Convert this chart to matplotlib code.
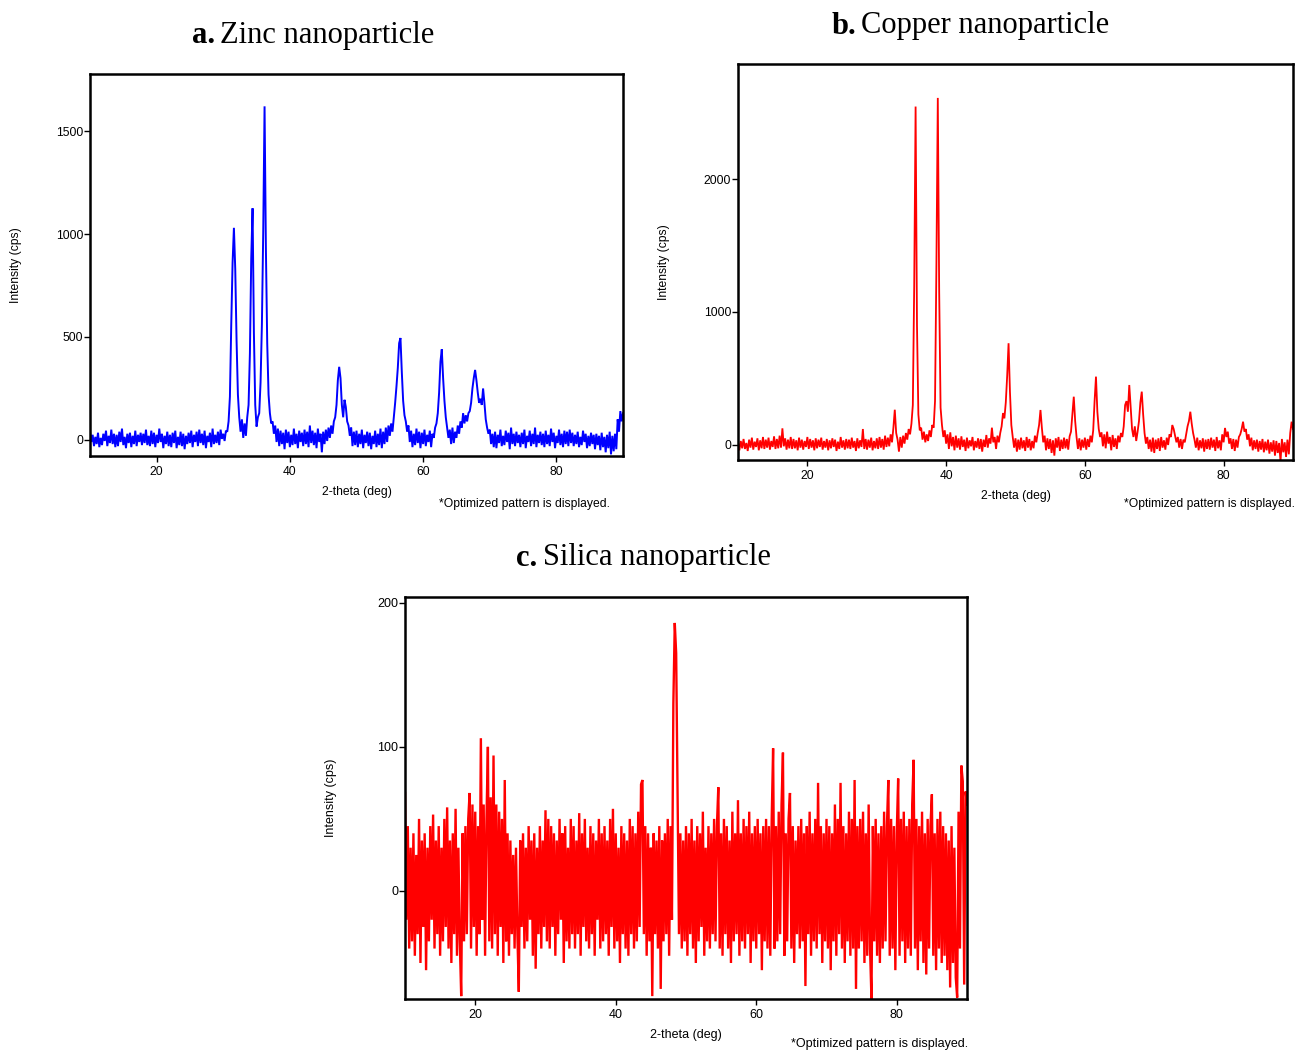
import numpy as np
import matplotlib
matplotlib.use("Agg")
import matplotlib.pyplot as plt

# ---------------- data ----------------
# scan positions: 10.0 .. 90.0 deg, 0.2 deg steps (401 points)
two_theta_start, two_theta_stop, two_theta_step = 10.0, 90.0, 0.2

# each row below covers 4 deg (20 points)
zinc_intensity = [
    40, -10, 25, -30, 15, -20, 35, -35, 10, -25, 30, -5, 45, -30, 20, -15, 50, -20, 30, -35,
    25, -30, 40, -10, 55, -25, 15, -40, 30, -15, 35, -35, 20, -20, 45, -30, 25, -10, 35, -25,
    30, -15, 50, -25, 20, -30, 45, -20, 35, -35, 25, -15, 55, -10, 30, -40, 20, -20, 40, -30,
    25, -35, 35, -15, 45, -40, 15, -25, 40, -30, 30, -45, 20, -20, 35, -15, 45, -35, 25, -10,
    40, -30, 50, -15, 30, -25, 45, -40, 20, -10, 35, -35, 55, -20, 25, -15, 40, -25, 50, 5,
    30, -5, 45, 40, 90, 210, 560, 860, 1030, 830, 480, 220, 110, 40, 100, 10, 80, 20, 110, 170,
    420, 880, 1125, 520, 170, 65, 110, 130, 280, 560, 1010, 1620, 930, 470, 220, 130, 80, 90, 30, 70,
    -10, 55, -30, 45, -20, 35, -45, 50, -15, 40, -35, 25, -25, 55, -20, 30, -40, 45, -10, 35,
    -30, 50, -20, 40, -35, 70, -15, 45, -25, 35, -40, 55, -10, 30, -60, 40, -20, 50, -5, 60,
    10, 70, 30, 90, 110, 170, 290, 355, 300, 170, 110, 195, 160, 90, 70, 20, 60, -30, 40, -25,
    45, -35, 30, -20, 50, -40, 25, -15, 40, -30, 35, -45, 20, -20, 45, -35, 30, -25, 55, -40,
    40, -20, 60, -10, 70, 20, 80, 40, 110, 180, 260, 350, 470, 495, 330, 190, 120, 90, 40, 70,
    -10, 45, -35, 30, -25, 55, -15, 40, -40, 35, -20, 50, -30, 25, -10, 45, -35, 30, 10, 60,
    80, 130, 230, 380, 440, 300, 190, 110, 60, 10, 50, -20, 60, -15, 40, 10, 70, 30, 90, 60,
    130, 80, 120, 90, 130, 140, 180, 250, 300, 340, 290, 230, 180, 200, 170, 250, 180, 100, 60, 30,
    50, -20, 30, -35, 40, -40, 25, -15, 50, -30, 20, -25, 45, -10, 35, -45, 60, -20, 30, -30,
    40, -15, 25, -35, 35, -20, 50, -40, 20, -10, 45, -30, 30, -20, 60, -35, 25, -15, 40, -25,
    30, -35, 45, -20, 25, -30, 55, -10, 35, -40, 20, -15, 50, -25, 30, -35, 45, -20, 40, -30,
    50, -15, 35, -30, 25, -20, 40, -35, 15, -25, 45, -10, 30, -40, 20, -30, 35, -20, 25, -45,
    30, -25, 20, -50, 35, -35, 15, -60, 25, -40, 40, -70, 20, -55, 30, -45, 100, 40, 140, 90,
    130,
]

copper_intensity = [
    20, -40, 30, -25, 45, -30, 15, -45, 40, -20, 55, -35, 25, -15, 50, -40, 35, -25, 60, -30,
    40, -20, 55, -35, 30, -15, 65, -30, 45, -25, 70, -20, 125, -10, 50, -35, 40, -25, 60, -30,
    45, -25, 35, -40, 55, -20, 40, -35, 30, -15, 60, -30, 45, -20, 35, -40, 50, -25, 40, -15,
    55, -35, 30, -20, 45, -40, 35, -25, 50, -15, 40, -45, 25, -30, 60, -20, 35, -35, 45, -25,
    40, -30, 55, -20, 30, -45, 50, -25, 35, -15, 120, -30, 45, -35, 40, -20, 55, -40, 30, -25,
    50, -30, 60, -20, 45, -35, 70, -15, 55, -10, 80, 20, 130, 265, 90, 40, -50, 60, -20, 70,
    10, 90, 40, 120, 80, 160, 300, 1200, 2545, 900, 230, 110, 130, 40, 100, 20, 80, 30, 110, 60,
    150, 130, 330, 1350, 2610, 1150, 280, 150, 60, 110, 10, 80, -30, 95, -10, 60, -40, 70, -20, 50,
    -35, 65, -15, 40, -45, 55, -25, 35, -10, 60, -40, 30, -20, 50, -30, 45, -50, 40, -15, 75,
    -20, 50, 10, 130, 20, 60, -30, 70, 20, 90, 140, 240, 200, 320, 520, 765, 400, 150, 60, -20,
    50, -50, 40, -35, 55, -25, 35, -45, 60, -20, 45, -40, 30, -25, 70, 20, 90, 150, 263, 130,
    20, 70, -40, 50, -30, 45, -60, 35, -80, 50, -20, 60, -45, 40, -30, 55, -25, 45, -35, 65,
    100, 230, 363, 180, 60, -30, 50, -40, 40, -20, 55, -35, 45, -15, 70, 20, 110, 330, 514, 250,
    120, 60, 95, -10, 80, -25, 100, 10, 60, -40, 75, -15, 50, -30, 70, 20, 90, 60, 140, 300,
    330, 250, 451, 280, 120, 60, 140, 30, 100, 180, 320, 401, 230, 90, 10, 60, -30, 40, -50, 55,
    -60, 40, -30, 50, -45, 60, -20, 35, -35, 55, 0, 80, 60, 150, 120, 70, 20, 60, -20, 45,
    -30, 40, 20, 80, 140, 180, 250, 160, 90, 40, -20, 55, -40, 35, -25, 50, -50, 40, -30, 45,
    -35, 55, -20, 40, -45, 60, -25, 35, -40, 80, 20, 128, 60, 100, 10, 50, -30, 45, -45, 40,
    -20, 60, 80, 120, 175, 100, 120, 40, 80, -10, 55, -40, 35, -30, 40, -50, 30, -35, 45, -55,
    25, -40, 40, -65, 20, -50, 35, -80, 30, -60, 15, -125, 45, -55, 20, -90, 40, -70, 90, 175,
    120,
]

silica_intensity = [
    68, -20, 45, -40, 30, -35, 40, -45, 25, -30, 50, -50, 35, -25, 40, -55, 30, -35, 45, -20,
    53, -40, 35, -30, 45, -45, 30, -35, 50, -25, 58, -40, 35, -50, 40, -30, 57, -45, 30, -35,
    -73, 40, -35, 45, -30, 50, 68, -40, 60, -25, 55, -45, 45, -30, 106, -20, 60, -45, 50, 100,
    -35, 65, -40, 94, -30, 60, -45, 55, -25, 50, -50, 77, -35, 40, -45, 35, -30, 25, -40, 30,
    -30, -70, 35, -25, 40, -40, 30, -35, 45, -20, 35, -45, 40, -54, 30, -30, 45, -40, 35, -25,
    56, -35, 50, -40, 45, -25, 40, -45, 35, -30, 50, -20, 40, -50, 45, -35, 30, -40, 50, -30,
    45, -40, 35, -30, 54, -45, 40, -25, 50, -35, 30, -40, 45, -30, 40, -45, 35, -20, 50, -40,
    40, -35, 45, -30, 35, -45, 50, -25, 57, -40, 40, -35, 30, -50, 45, -30, 40, -40, 35, -45,
    50, -30, 45, -40, 40, -35, 55, -25, 74, 77, -30, 45, -45, 40, -35, 30, -73, 40, -30, 35,
    -40, 45, -68, 35, -35, 40, -30, 50, -45, 45, -20, 130, 186, 165, 70, -30, 40, -40, 35, -35,
    45, -45, 40, -30, 50, -40, 35, -50, 45, -35, 40, -25, 55, -45, 30, -35, 45, -40, 40, -30,
    50, -35, 45, 72, -40, 40, -45, 50, -30, 45, -40, 35, -50, 55, -35, 40, -30, 63, -45, 40,
    -35, 50, -40, 45, -30, 55, -50, 40, -35, 45, -40, 50, -30, 40, -55, 45, -35, 50, -40, 45,
    -45, 50, 99, -40, 45, -35, 55, -30, 60, 96, -45, 40, -35, 50, 68, -40, 45, -50, 35, -30,
    45, -40, 50, -35, 40, -66, 45, -30, 55, -45, 40, -35, 50, -40, 75, -30, 45, -50, 40, -35,
    50, -40, 45, -55, 40, -35, 60, -45, 50, -30, 75, -40, 45, -50, 40, -35, 55, -45, 50, -40,
    77, -68, 45, -40, 50, -35, 55, -50, 40, -45, 60, -40, -75, 45, -35, 50, -45, 40, -50, 45,
    -40, 55, -35, 45, 77, -45, 50, -40, 45, -55, 40, 78, -45, 50, -35, 55, -50, 45, -40, 50,
    -45, 60, 91, -40, 50, -55, 45, -35, 55, -50, 40, -58, 50, -40, 45, 67, -45, 40, -55, 50,
    -40, 55, -50, 45, -45, 40, -55, 35, -67, 45, -50, 30, -60, -74, 55, -40, 87, 76, -65, 69,
    60,
]

titles = [("a.", "Zinc nanoparticle"), ("b.", "Copper nanoparticle"), ("c.", "Silica nanoparticle")]
x_ticks = [20, 40, 60, 80]
y_ticks_a = [0, 500, 1000, 1500]
y_ticks_b = [0, 1000, 2000]
y_ticks_c = [0, 100, 200]
x_label = "2-theta (deg)"
y_label = "Intensity (cps)"
note = "*Optimized pattern is displayed."

# ---------------- figure ----------------
W, H = 1302, 1051
fig = plt.figure(figsize=(W / 100, H / 100), dpi=100)
sans = ["Liberation Sans", "DejaVu Sans"]
serif = ["Liberation Serif", "DejaVu Serif"]

two_theta = np.arange(two_theta_start, two_theta_stop + two_theta_step / 2, two_theta_step)


def px_axes(l, t, r, b):
    return fig.add_axes([l / W, 1 - b / H, (r - l) / W, (b - t) / H])


panels = [
    dict(box=(90, 74, 623, 456), y=zinc_intensity, color="#0000FF", ylim=(-78, 1777),
         yticks=y_ticks_a, title=titles[0], tpos=(215, 220, 35), note=(610, 504), lw=1.4, fs=8.7),
    dict(box=(738, 64, 1293, 460), y=copper_intensity, color="#FF0000", ylim=(-113, 2865),
         yticks=y_ticks_b, title=titles[1], tpos=(856, 861, 26), note=(1295, 504), lw=1.3, fs=8.7),
    dict(box=(405, 597, 967, 999), y=silica_intensity, color="#FF0000", ylim=(-75, 204),
         yticks=y_ticks_c, title=titles[2], tpos=(537, 543, 558), note=(968, 1044), lw=1.7, fs=9.0),
]

for p in panels:
    l, t, r, b = p["box"]
    ax = px_axes(l, t, r, b)
    ax.plot(two_theta, p["y"], color=p["color"], lw=p["lw"], solid_joinstyle="miter")
    ax.set_xlim(10, 90)
    ax.set_ylim(*p["ylim"])
    ax.set_xticks(x_ticks)
    ax.set_yticks(p["yticks"])
    ax.tick_params(axis="both", direction="out", length=4.5, width=1.0, labelsize=p["fs"],
                   colors="black")
    ax.tick_params(axis="y", pad=0.5)
    ax.tick_params(axis="x", pad=3)
    for lab in ax.get_xticklabels() + ax.get_yticklabels():
        lab.set_family(sans)
    for s in ax.spines.values():
        s.set_linewidth(1.8)
        s.set_color("black")
    ax.set_xlabel(x_label, family=sans, fontsize=p["fs"])
    ax.set_ylabel(y_label, family=sans, fontsize=p["fs"])
    ax.xaxis.set_label_coords(0.5, -30 / (b - t))
    ax.yaxis.set_label_coords(-68 / (r - l), 0.5)
    bx, rx, ty = p["tpos"]
    fig.text(bx / W, 1 - ty / H, p["title"][0], family=serif, fontsize=22, fontweight="bold",
             ha="right", va="center")
    fig.text(rx / W, 1 - ty / H, p["title"][1], family=serif, fontsize=22, ha="left", va="center")
    nx, ny = p["note"]
    fig.text(nx / W, 1 - ny / H, note, family=sans, fontsize=p["fs"], ha="right", va="center")

fig.savefig("out.png", dpi=100)
